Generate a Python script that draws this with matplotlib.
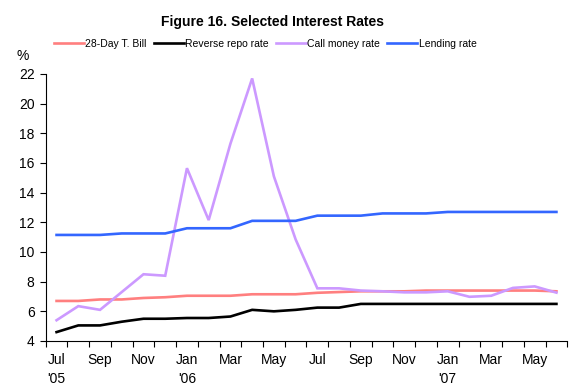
import matplotlib
matplotlib.use("Agg")
import matplotlib.pyplot as plt
import numpy as np

plt.rcParams['font.family'] = ['Liberation Sans', 'DejaVu Sans']

# Monthly observations, Jul 2005 - Jun 2007
months = ["Jul", "Aug", "Sep", "Oct", "Nov", "Dec",
          "Jan", "Feb", "Mar", "Apr", "May", "Jun",
          "Jul", "Aug", "Sep", "Oct", "Nov", "Dec",
          "Jan", "Feb", "Mar", "Apr", "May", "Jun"]
year_marks = {0: "'05", 6: "'06", 18: "'07"}

tbill_28day = [6.7, 6.7, 6.8, 6.8, 6.9, 6.95, 7.05, 7.05, 7.05, 7.15, 7.15, 7.15,
               7.25, 7.3, 7.35, 7.35, 7.35, 7.4, 7.4, 7.4, 7.4, 7.4, 7.4, 7.35]
reverse_repo = [4.6, 5.05, 5.05, 5.3, 5.5, 5.5, 5.55, 5.55, 5.65, 6.1, 6.0, 6.1,
                6.25, 6.25, 6.5, 6.5, 6.5, 6.5, 6.5, 6.5, 6.5, 6.5, 6.5, 6.5]
call_money = [5.4, 6.35, 6.1, 7.3, 8.5, 8.4, 15.65, 12.15, 17.3, 21.7, 15.1, 10.85,
              7.55, 7.55, 7.4, 7.35, 7.28, 7.28, 7.35, 6.98, 7.05, 7.58, 7.68, 7.26]
lending_rate = [11.15, 11.15, 11.15, 11.25, 11.25, 11.25, 11.6, 11.6, 11.6, 12.1, 12.1, 12.1,
                12.45, 12.45, 12.45, 12.6, 12.6, 12.6, 12.7, 12.7, 12.7, 12.7, 12.7, 12.7]

series = [
    ("28-Day T. Bill", tbill_28day, "#FF7F7F"),
    ("Reverse repo rate", reverse_repo, "#000000"),
    ("Call money rate", call_money, "#CC99FF"),
    ("Lending rate", lending_rate, "#3366FF"),
]

fig = plt.figure(figsize=(5.74, 3.85), dpi=100)
ax = fig.add_axes([0.0796, 0.1143, 0.9087, 0.6935])

x = np.arange(len(months))
for name, vals, color in series:
    ax.plot(x, vals, color=color, lw=1.9, label=name, solid_joinstyle="miter")

ax.set_xlim(-0.5, len(months) - 0.5)
ax.set_ylim(4, 22)
ax.set_yticks(np.arange(4, 23, 2))

# labels every other month at category centres, tick marks at category edges
lab_pos = x[::2]
labels = [months[i] + ("\n" + year_marks[i] if i in year_marks else "") for i in lab_pos]
ax.set_xticks(lab_pos)
ax.set_xticklabels(labels, linespacing=1.45, va="top")
ax.set_xticks(np.arange(-0.5, len(months) + 0.5, 1), minor=True)
ax.tick_params(axis="x", which="major", length=0, pad=9, labelsize=10)
ax.tick_params(axis="x", which="minor", length=4, width=0.8, direction="out")
ax.tick_params(axis="y", length=4, width=0.8, direction="out", pad=4, labelsize=10)

for s in ("top", "right"):
    ax.spines[s].set_visible(False)
for s in ("left", "bottom"):
    ax.spines[s].set_linewidth(0.8)

fig.text(0.474, 0.944, "Figure 16. Selected Interest Rates", ha="center", va="center",
         fontsize=10, fontweight="bold")
fig.text(0.040, 0.855, "%", ha="center", va="center", fontsize=10)

fig.legend(loc="center", bbox_to_anchor=(0.462, 0.887), ncol=4, frameon=False,
           fontsize=7.5, handlelength=2.9, handletextpad=0.15, columnspacing=0.65,
           borderpad=0, borderaxespad=0)

fig.savefig("out.png", dpi=100)
